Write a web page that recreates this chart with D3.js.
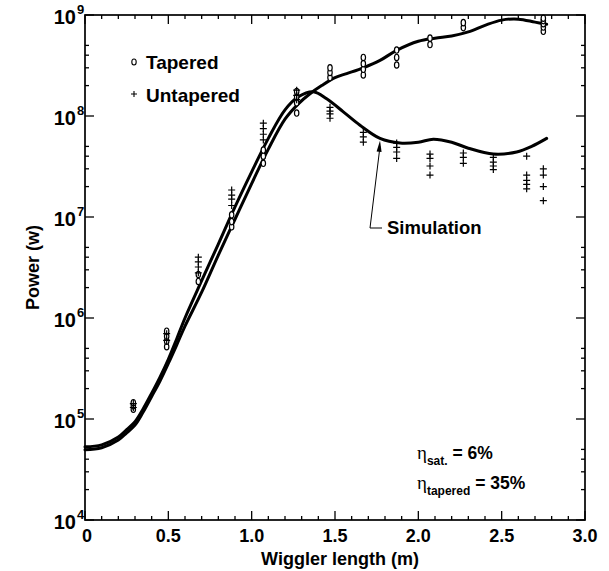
<!DOCTYPE html>
<html>
<head>
<meta charset="utf-8">
<script src="https://cdn.jsdelivr.net/npm/d3@7"></script>
<style>
  html, body { margin: 0; padding: 0; background: #fff; }
  svg { display: block; font-family: "Liberation Sans", Arial, Helvetica, sans-serif; }
</style>
</head>
<body>
<svg id="chart" width="609" height="571"></svg>
<script>
// Simulated power along the wiggler (W)
const simX = [0, 0.1, 0.2, 0.25, 0.3, 0.35, 0.4, 0.45, 0.5, 0.55, 0.6, 0.7, 0.8, 0.9, 1.0, 1.1, 1.2, 1.28];
const simUntaperedHead = [5.3e4, 5.55e4, 6.65e4, 7.85e4, 9.4e4, 1.27e5, 1.8e5, 2.6e5, 3.9e5, 6.2e5, 1.0e6, 2.34e6, 5.4e6, 1.26e7, 2.8e7, 6.0e7, 1.15e8, 1.55e8];
const simTaperedHead   = [4.95e4, 5.2e4, 6.2e4, 7.3e4, 8.7e4, 1.18e5, 1.67e5, 2.38e5, 3.55e5, 5.4e5, 8.3e5, 1.8e6, 4.2e6, 9.5e6, 2.14e7, 4.7e7, 9.3e7, 1.32e8];

const simUntaperedTailX = [1.37, 1.45, 1.55, 1.65, 1.77, 1.89, 2.0, 2.09, 2.2, 2.3, 2.45, 2.59, 2.68, 2.77];
const simUntaperedTail  = [1.74e8, 1.48e8, 1.1e8, 8.1e7, 6.0e7, 5.4e7, 5.5e7, 5.9e7, 5.5e7, 4.8e7, 4.2e7, 4.4e7, 5.0e7, 6.0e7];

const simTaperedTailX = [1.35, 1.42, 1.5, 1.57, 1.67, 1.77, 1.87, 2.0, 2.1, 2.2, 2.3, 2.4, 2.5, 2.6, 2.7, 2.77];
const simTaperedTail  = [1.66e8, 2.0e8, 2.4e8, 2.63e8, 3.0e8, 3.55e8, 4.47e8, 5.5e8, 5.9e8, 6.2e8, 6.8e8, 7.9e8, 8.9e8, 9.1e8, 8.5e8, 8.1e8];

// Measured power, tapered wiggler
const taperedX = [0.29, 0.29, 0.29, 0.49, 0.49, 0.49, 0.49, 0.68, 0.68, 0.88, 0.88, 0.88, 1.07, 1.07, 1.07,
                  1.27, 1.27, 1.27, 1.27, 1.47, 1.47, 1.47, 1.67, 1.67, 1.67, 1.67, 1.87, 1.87, 1.87,
                  2.07, 2.07, 2.27, 2.27, 2.75, 2.75, 2.75, 2.75, 2.75];
const taperedP = [1.25e5, 1.35e5, 1.45e5, 5.2e5, 5.9e5, 6.6e5, 7.4e5, 2.3e6, 2.7e6, 8.0e6, 9.0e6, 1.05e7, 3.4e7, 4.0e7, 4.6e7,
                  1.07e8, 1.35e8, 1.55e8, 1.75e8, 2.4e8, 2.7e8, 3.0e8, 2.55e8, 2.9e8, 3.3e8, 3.8e8, 3.2e8, 3.8e8, 4.5e8,
                  5.1e8, 5.9e8, 7.5e8, 8.4e8, 6.9e8, 7.6e8, 8.2e8, 8.8e8, 9.3e8];

// Measured power, untapered wiggler
const untaperedX = [0.29, 0.29, 0.49, 0.49, 0.68, 0.68, 0.68, 0.68, 0.88, 0.88, 0.88, 0.88, 1.07, 1.07, 1.07, 1.07,
                    1.27, 1.27, 1.27, 1.47, 1.47, 1.47, 1.47, 1.67, 1.67, 1.67, 1.87, 1.87, 1.87, 1.87,
                    2.07, 2.07, 2.07, 2.07, 2.27, 2.27, 2.27, 2.45, 2.45, 2.45, 2.45,
                    2.65, 2.65, 2.65, 2.65, 2.65, 2.75, 2.75, 2.75, 2.75];
const untaperedP = [1.3e5, 1.42e5, 6.0e5, 7.0e5, 2.8e6, 3.2e6, 3.6e6, 4.0e6, 1.3e7, 1.5e7, 1.65e7, 1.85e7, 5.8e7, 6.6e7, 7.5e7, 8.5e7,
                    1.45e8, 1.6e8, 1.8e8, 0.95e8, 1.05e8, 1.12e8, 1.22e8, 5.5e7, 6.2e7, 6.9e7, 3.8e7, 4.4e7, 4.9e7, 5.4e7,
                    2.6e7, 3.2e7, 3.8e7, 4.2e7, 3.4e7, 3.9e7, 4.3e7, 2.95e7, 3.2e7, 3.5e7, 3.9e7,
                    1.9e7, 2.1e7, 2.3e7, 2.6e7, 4.0e7, 1.45e7, 2.0e7, 2.6e7, 3.0e7];

const xMajorTicks = [0, 0.5, 1.0, 1.5, 2.0, 2.5, 3.0];
const xTickLabels = ["0", "0.5", "1.0", "1.5", "2.0", "2.5", "3.0"];
const yDecades = [4, 5, 6, 7, 8, 9];
const yMinorMantissas = [2, 3, 4, 5];

const svg = d3.select("#chart");
const plotLeft = 85, plotRight = 585, plotTop = 15, plotBottom = 520;

const x = d3.scaleLinear().domain([0, 3]).range([plotLeft, plotRight]);
const y = d3.scaleLog().domain([1e4, 1e9]).range([plotBottom, plotTop]);

// Simulation curves
const line = d3.line()
  .x(d => x(d[0]))
  .y(d => y(d[1]))
  .curve(d3.curveCatmullRom.alpha(0.5));

const untaperedCurve = simX.map((v, i) => [v, simUntaperedHead[i]])
  .concat(simUntaperedTailX.map((v, i) => [v, simUntaperedTail[i]]));
const taperedCurve = simX.map((v, i) => [v, simTaperedHead[i]])
  .concat(simTaperedTailX.map((v, i) => [v, simTaperedTail[i]]));

const curves = svg.append("g").attr("fill", "none").attr("stroke", "#000")
  .attr("stroke-width", 3).attr("stroke-linejoin", "round").attr("stroke-linecap", "round");
curves.append("path").attr("d", line(untaperedCurve));
curves.append("path").attr("d", line(taperedCurve));

// Measured points
const pts = svg.append("g").attr("stroke", "#000").attr("stroke-width", 1.2);
pts.selectAll("ellipse").data(taperedX).join("ellipse")
  .attr("cx", d => x(d))
  .attr("cy", (d, i) => y(taperedP[i]))
  .attr("rx", 2.2).attr("ry", 3.2)
  .attr("fill", "#fff");
pts.selectAll("path").data(untaperedX).join("path")
  .attr("d", (d, i) => {
    const cx = x(d), cy = y(untaperedP[i]), s = 3.5;
    return `M${cx - s},${cy}H${cx + s}M${cx},${cy - s}V${cy + s}`;
  })
  .attr("fill", "none");

// Frame
svg.append("rect")
  .attr("x", plotLeft).attr("y", plotTop)
  .attr("width", plotRight - plotLeft).attr("height", plotBottom - plotTop)
  .attr("fill", "none").attr("stroke", "#000").attr("stroke-width", 1.7);

// Ticks, pointing inward on all four sides
const ticks = svg.append("g").attr("stroke", "#000").attr("stroke-width", 1.3);
const xAll = d3.range(0, 31).map(i => i / 10);
xAll.forEach(v => {
  const major = Math.abs(v * 2 - Math.round(v * 2)) < 1e-6;
  const len = major ? 9 : 4;
  ticks.append("line").attr("x1", x(v)).attr("x2", x(v)).attr("y1", plotBottom).attr("y2", plotBottom - len);
  ticks.append("line").attr("x1", x(v)).attr("x2", x(v)).attr("y1", plotTop).attr("y2", plotTop + len);
});
yDecades.forEach((e, k) => {
  const v = Math.pow(10, e);
  ticks.append("line").attr("x1", plotLeft).attr("x2", plotLeft + 9).attr("y1", y(v)).attr("y2", y(v));
  ticks.append("line").attr("x1", plotRight).attr("x2", plotRight - 9).attr("y1", y(v)).attr("y2", y(v));
  if (k < yDecades.length - 1) {
    yMinorMantissas.forEach(m => {
      const mv = m * v;
      ticks.append("line").attr("x1", plotLeft).attr("x2", plotLeft + 4).attr("y1", y(mv)).attr("y2", y(mv));
      ticks.append("line").attr("x1", plotRight).attr("x2", plotRight - 4).attr("y1", y(mv)).attr("y2", y(mv));
    });
  }
});

// X tick labels
svg.append("g").selectAll("text").data(xMajorTicks).join("text")
  .attr("x", d => x(d) + (d === 0 ? 2 : 0))
  .attr("y", 542)
  .attr("text-anchor", "middle")
  .attr("font-size", 18).attr("font-weight", "bold")
  .text((d, i) => xTickLabels[i]);

// Y tick labels: 10 with superscript exponent
const yl = svg.append("g").attr("font-weight", "bold");
yDecades.forEach(e => {
  const ty = y(Math.pow(10, e));
  yl.append("text")
    .attr("x", 76).attr("y", ty + 9)
    .attr("text-anchor", "end").attr("font-size", 20)
    .text("10");
  yl.append("text")
    .attr("x", 77).attr("y", ty - 1)
    .attr("font-size", 13).text(String(e));
});

// Axis titles
svg.append("text")
  .attr("x", 340).attr("y", 565)
  .attr("text-anchor", "middle").attr("font-size", 18).attr("font-weight", "bold")
  .text("Wiggler length (m)");
svg.append("text")
  .attr("transform", `translate(39,${(plotTop + plotBottom) / 2}) rotate(-90)`)
  .attr("text-anchor", "middle").attr("font-size", 18).attr("font-weight", "bold")
  .text("Power (w)");

// Legend
const lg = svg.append("g");
lg.append("ellipse").attr("cx", 134).attr("cy", 62).attr("rx", 2.2).attr("ry", 3)
  .attr("fill", "#fff").attr("stroke", "#000").attr("stroke-width", 1.1);
lg.append("text").attr("x", 146).attr("y", 69).attr("font-size", 19).attr("font-weight", "bold").text("Tapered");
lg.append("path").attr("d", "M131,94H137M134,91V97").attr("stroke", "#000").attr("stroke-width", 1.1);
lg.append("text").attr("x", 146).attr("y", 102).attr("font-size", 19).attr("font-weight", "bold").text("Untapered");

// Simulation annotation with arrow
const tipX = x(1.77), tipY = y(6.0e7) + 2;
const cornerX = 370, cornerY = 228;
svg.append("path")
  .attr("d", `M${cornerX + 12},${cornerY}H${cornerX}L${tipX},${tipY + 6}`)
  .attr("stroke", "#000").attr("stroke-width", 1).attr("fill", "none");
svg.append("path")
  .attr("d", `M${tipX},${tipY}L${tipX - 3.4},${tipY + 11}L${tipX + 1.6},${tipY + 11.5}Z`)
  .attr("fill", "#000");
svg.append("text")
  .attr("x", 387).attr("y", 234)
  .attr("font-size", 18.5).attr("font-weight", "bold").text("Simulation");

// Efficiency notes
const note = svg.append("g").attr("font-size", 17.5);
const n1 = note.append("text").attr("x", 417).attr("y", 459);
n1.append("tspan").attr("font-family", "Liberation Serif, serif").attr("font-size", 19).text("η");
n1.append("tspan").attr("dy", 6).attr("font-size", 12).attr("font-weight", "bold").text("sat.");
n1.append("tspan").attr("dy", -6).attr("font-weight", "bold").text(" = 6%");
const n2 = note.append("text").attr("x", 417).attr("y", 489);
n2.append("tspan").attr("font-family", "Liberation Serif, serif").attr("font-size", 19).text("η");
n2.append("tspan").attr("dy", 6).attr("font-size", 12).attr("font-weight", "bold").text("tapered");
n2.append("tspan").attr("dy", -6).attr("font-weight", "bold").text(" = 35%");
</script>
</body>
</html>
